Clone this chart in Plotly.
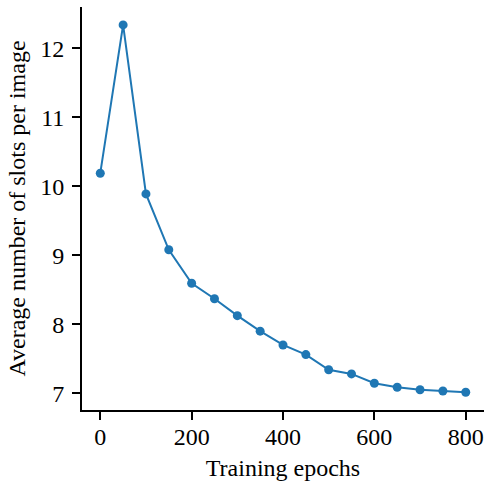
import plotly.graph_objects as go

epochs = [0, 50, 100, 150, 200, 250, 300, 350, 400, 450, 500, 550, 600, 650, 700, 750, 800]
avg_slots = [10.19, 12.34, 9.89, 9.08, 8.595, 8.37, 8.125, 7.90, 7.70, 7.56, 7.34, 7.28, 7.145, 7.087, 7.05, 7.033, 7.015]
x_ticks = [0, 200, 400, 600, 800]
y_ticks = [7, 8, 9, 10, 11, 12]

font = dict(family="Liberation Serif", size=24, color="black")

fig = go.Figure(go.Scatter(
    x=epochs, y=avg_slots, mode="lines+markers",
    line=dict(color="#1f77b4", width=2),
    marker=dict(color="#1f77b4", size=9),
))

fig.update_layout(
    width=487, height=481,
    margin=dict(l=82, r=3, t=7, b=71, autoexpand=False),
    paper_bgcolor="white", plot_bgcolor="white",
    font=font, showlegend=False,
)
fig.update_xaxes(
    range=[-40, 840], tickvals=x_ticks, ticks="outside", ticklen=8, tickwidth=1.5,
    tickcolor="black", showline=True, linecolor="black", linewidth=1.8,
    showgrid=False, zeroline=False, ticklabelstandoff=-4, automargin=True,
    tickfont=font,
    title=dict(text="Training epochs", standoff=10, font=font),
)
fig.update_yaxes(
    range=[6.757, 12.6], tickvals=y_ticks, ticks="outside", ticklen=8, tickwidth=1.5,
    tickcolor="black", showline=True, linecolor="black", linewidth=1.8,
    showgrid=False, zeroline=False, ticklabelstandoff=3, automargin=True,
    tickfont=font,
    title=dict(text="Average number of slots per image", standoff=8, font=font),
)
fig.write_html(
    "out.html",
    config={"displayModeBar": False},
    post_script="document.body.style.margin='0';document.body.style.padding='0';",
)
